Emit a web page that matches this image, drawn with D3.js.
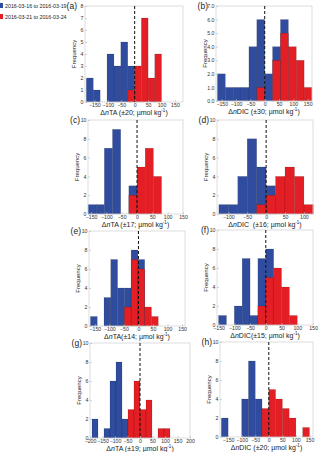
<!DOCTYPE html>
<html>
<head>
<meta charset="utf-8">
<script src="https://cdn.jsdelivr.net/npm/d3@7/dist/d3.min.js"></script>
<style>
  body { margin: 0; background: #fff; }
  svg { display: block; font-family: "Liberation Sans", Arial, sans-serif; }
</style>
</head>
<body>
<div id="chart"></div>
<script>
// panel labels and axis titles
const panelLabels = ['(a)', '(b)', '(c)', '(d)', '(e)', '(f)', '(g)', '(h)'];
const varNames = ['TA', 'DIC', 'TA', 'DIC', 'TA', 'DIC', 'TA', 'DIC'];
const uncertainty = [' (±20; µmol kg', ' (±30; µmol kg', ' (±17; µmol kg', '  (±16; µmol kg',
                     '(±14; µmol kg', '(±15; µmol kg', ' (±19; µmol kg', ' (±20; µmol kg'];
const legendLabels = ['2016-03-16 to 2016-03-19', '2016-03-21 to 2016-03-24'];

// axis limits and ticks
const xDomains = [[-185, 180], [-170, 165], [-160, 150], [-130, 124],
                  [-170, 160], [-155, 150], [-200, 200], [-180, 163]];
const xTicks = [
  [-150, -100, -50, 0, 50, 100, 150],
  [-150, -100, -50, 0, 50, 100, 150],
  [-150, -100, -50, 0, 50, 100, 150],
  [-100, -50, 0, 50, 100],
  [-150, -100, -50, 0, 50, 100, 150],
  [-150, -100, -50, 0, 50, 100, 150],
  [-200, -150, -100, -50, 0, 50, 100, 150, 200],
  [-150, -100, -50, 0, 50, 100, 150]
];
const yMax = [8, 7, 10, 10, 10, 10, 10, 10];
const yTickStep = [1, 1, 2, 2, 2, 2, 2, 2];

// histogram bins: first edge, bin width, counts
const blueStart = [-180, -165, -160, -125, -165, -150, -192, -175];
const blueWidth = [25.7, 27.5, 26.67, 25, 23.3, 25, 24, 25];
const blueCounts = [
  [2, 1, 0, 4, 3, 5, 3],
  [2, 1, 1, 1, 4, 6, 2, 4, 6],
  [1, 1, 7, 9, 0, 3],
  [1, 1, 4, 8, 5, 3],
  [1, 0, 3, 7, 4, 4, 8, 7],
  [1, 0, 2, 7, 1, 7, 8],
  [2, 0, 1, 6, 8, 2],
  [2, 0, 0, 4, 8, 4]
];
const redStart = [-25, -27.5, -26.67, -25, -48.5, -25, -48, -25];
const redWidth = [25, 27.5, 26.67, 25, 23.3, 25, 24, 25];
const redCounts = [
  [1, 3, 7, 2, 4],
  [1, 0, 3, 5, 4, 3, 1],
  [2, 5, 7, 4],
  [1, 2, 4, 5, 4, 1],
  [2, 7, 6, 2, 1],
  [2, 5, 6, 4, 1],
  [3, 6, 3, 4, 0, 1, 1],
  [3, 5, 4, 3, 2, 0, 1]
];

const BLUE = '#2f4c9e';
const RED = '#e31e24';

const width = 320, height = 452;

// plot boxes [left, right, top, bottom]
const boxes = [[85, 183, 6, 102], [216, 312, 6, 101],
               [88, 183, 120, 214], [217, 313, 120, 214],
               [89, 185, 231, 326], [217, 313, 230, 325],
               [90, 190, 343, 438], [220, 313, 342, 437]];

const svg = d3.select('#chart')
  .append('svg')
    .attr('width', width)
    .attr('height', height);

function toBins(start, w, counts) {
  return counts.map((c, k) => ({x0: start + k * w, x1: start + (k + 1) * w, n: c}))
    .filter(d => d.n > 0);
}

panelLabels.forEach((lab, i) => {
  const [x0, x1, y0, y1] = boxes[i];
  const x = d3.scaleLinear().domain(xDomains[i]).range([x0, x1]);
  const y = d3.scaleLinear().domain([0, yMax[i]]).range([y1, y0]);
  const g = svg.append('g');

  // bars: blue first, red on top
  [[toBins(blueStart[i], blueWidth[i], blueCounts[i]), BLUE],
   [toBins(redStart[i], redWidth[i], redCounts[i]), RED]].forEach(([bins, col]) => {
    g.selectAll(null)
      .data(bins)
      .enter()
      .append('rect')
        .attr('x', d => x(d.x0))
        .attr('y', d => y(d.n))
        .attr('width', d => x(d.x1) - x(d.x0))
        .attr('height', d => y(0) - y(d.n))
        .attr('fill', col)
        .attr('stroke', 'rgba(0,0,0,0.3)')
        .attr('stroke-width', 0.4);
  });

  // frame
  g.append('rect')
    .attr('x', x0).attr('y', y0)
    .attr('width', x1 - x0).attr('height', y1 - y0)
    .attr('fill', 'none')
    .attr('stroke', '#d4d4d4')
    .attr('stroke-width', 0.8);

  // axes
  const xAxis = d3.axisBottom(x).tickValues(xTicks[i]).tickSize(-2).tickSizeOuter(0).tickPadding(1.5);
  const gx = g.append('g')
    .attr('transform', 'translate(0,' + y1 + ')')
    .call(xAxis);
  const yTicks = d3.range(0, yMax[i] + 0.01, yTickStep[i]);
  const yAxis = d3.axisLeft(y).tickValues(yTicks).tickSize(-2).tickSizeOuter(0).tickPadding(1.5);
  const gy = g.append('g')
    .attr('transform', 'translate(' + x0 + ',0)')
    .call(yAxis);
  [gx, gy].forEach(ax => {
    ax.select('.domain').remove();
    ax.selectAll('.tick line').attr('stroke', '#bbb').attr('stroke-width', 0.6);
    ax.selectAll('.tick text')
      .attr('fill', '#333')
      .style('font-size', '5.2px')
      .style('font-family', '"Liberation Sans", Arial, sans-serif');
  });

  // zero line
  g.append('line')
    .attr('x1', x(0)).attr('x2', x(0))
    .attr('y1', y0).attr('y2', y1)
    .attr('stroke', '#111')
    .attr('stroke-width', 1)
    .attr('stroke-dasharray', '3,2');

  // x title
  const t = g.append('text')
    .attr('x', (x0 + x1) / 2)
    .attr('y', y1 + 12.5)
    .attr('text-anchor', 'middle')
    .style('font-size', '7px')
    .attr('fill', '#222')
    .attr('xml:space', 'preserve');
  t.append('tspan').text('Δ');
  t.append('tspan').style('font-style', 'italic').text('n');
  t.append('tspan').text(varNames[i] + uncertainty[i]);
  t.append('tspan').attr('dy', -2.5).style('font-size', '4.5px').text('-1');
  t.append('tspan').attr('dy', 2.5).text(')');

  // y title
  g.append('text')
    .attr('transform', 'translate(' + (x0 - 9) + ',' + ((y0 + y1) / 2) + ') rotate(-90)')
    .attr('text-anchor', 'middle')
    .style('font-size', '6px')
    .attr('fill', '#222')
    .text('Frequency');

  // panel label
  g.append('text')
    .attr('x', x0 - 8)
    .attr('y', y0 + 3)
    .attr('text-anchor', 'end')
    .style('font-size', '8.5px')
    .attr('fill', '#222')
    .text(lab);
});

// legend
const legend = svg.append('g');
legendLabels.forEach((lab, k) => {
  legend.append('rect')
    .attr('x', -4).attr('y', 3 + k * 11)
    .attr('width', 7).attr('height', 5)
    .attr('fill', k == 0 ? BLUE : RED);
  legend.append('text')
    .attr('x', 5).attr('y', 7.8 + k * 11)
    .style('font-size', '5.3px')
    .attr('fill', '#222')
    .text(lab);
});
</script>
</body>
</html>
